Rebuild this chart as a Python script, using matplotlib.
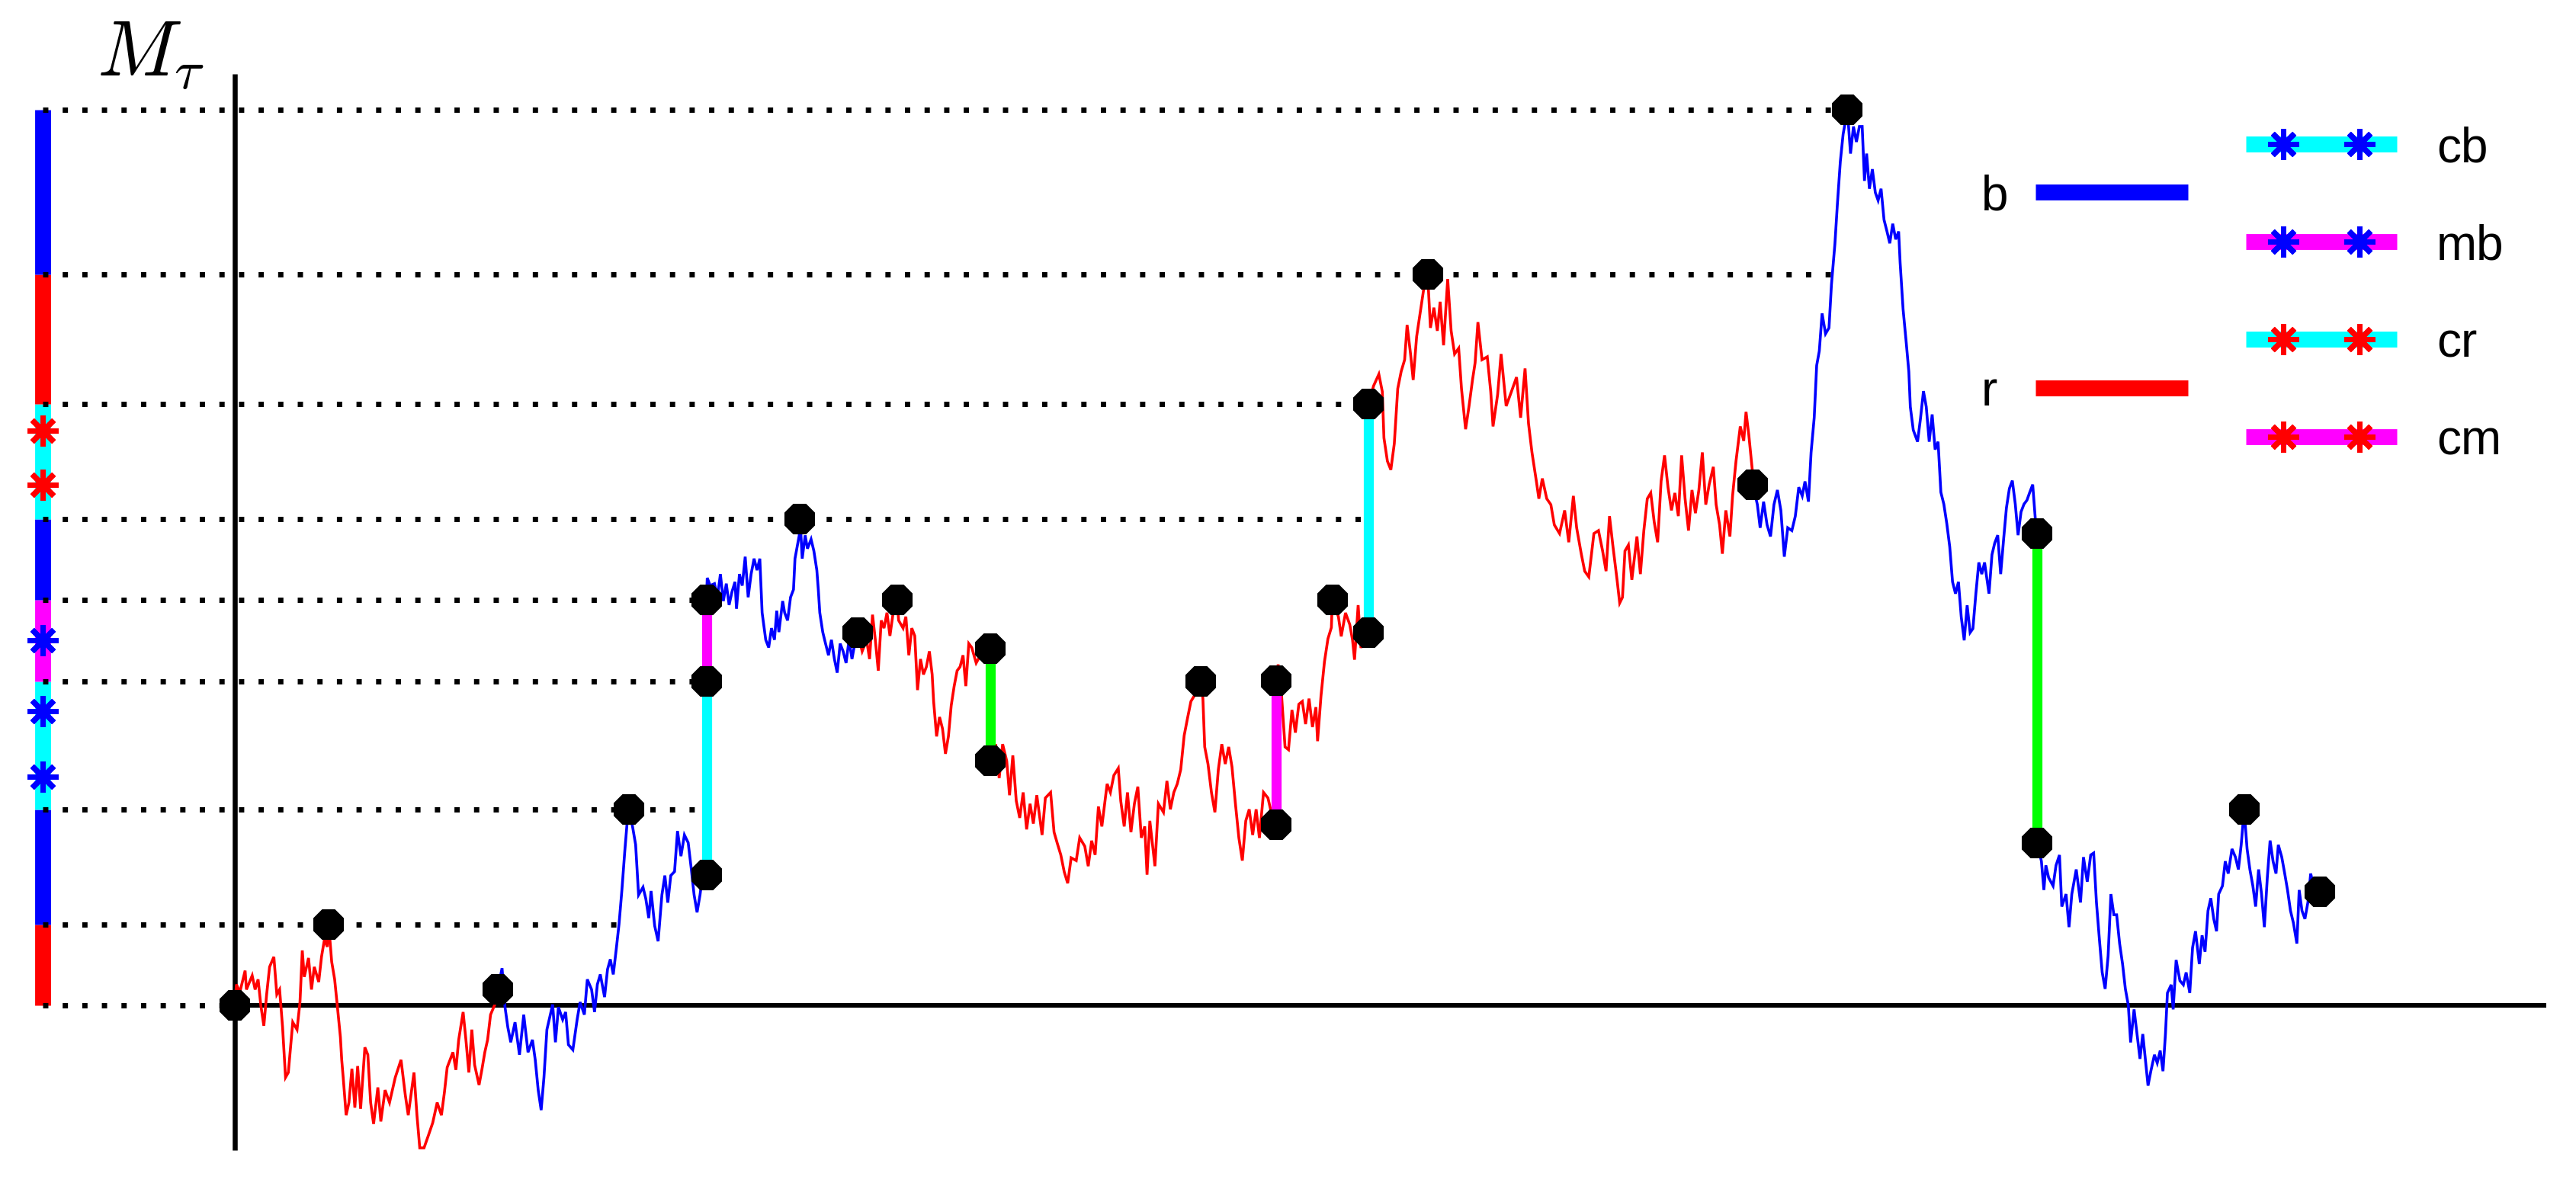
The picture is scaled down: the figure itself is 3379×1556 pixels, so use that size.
import matplotlib
matplotlib.use('Agg')
import matplotlib.pyplot as plt

plt.rcParams['mathtext.fontset'] = 'cm'
plt.rcParams['font.family'] = ['Liberation Sans', 'DejaVu Sans']

COLORS = {'r': (1, 0, 0), 'b': (0, 0, 1), 'c': (0, 1, 1), 'm': (1, 0, 1), 'g': (0, 1, 0)}

# ---------------- path data (time t, level M) ----------------
path_a = [(0, 0), (0.9, 12.7), (3, 8), (6.2, 21.1), (7.0, 9.6), (10.5, 18.1), (12.3, 9.6), (14.1, 15.8),
          (15.8, -0.3), (17.6, -12.5), (19.3, 6.6), (21.1, 23.4), (23.7, 29.5), (25.5, 6.6), (27.2, 9.6),
          (29.0, -13.3), (30.8, -43.9), (32.5, -40.9), (35.2, -10.3), (37.8, -14.8), (39.6, 2.0), (41.0, 33.4),
          (42.2, 17.3), (44.8, 28.8), (46.6, 9.6), (48.3, 23.4), (51.0, 14.2), (52.7, 29.5), (54.5, 40.2),
          (56.2, 35.6), (57.1, 49.0), (58.9, 26.5), (60.7, 15.8), (62.4, -1.1), (64.2, -19.4), (65.0, -33.2),
          (65.9, -43.9), (67.7, -66.9), (69.4, -59.2), (71.2, -38.6), (73.0, -62.3), (74.7, -37.0), (76.5, -63.0),
          (79.1, -25.6), (80.9, -30.1), (82.6, -59.2), (84.4, -72.2), (87.0, -50.0), (88.8, -70.7), (91.4, -51.6),
          (94.1, -59.2), (97.6, -43.9), (101.1, -33.2), (103.7, -54.6), (105.5, -66.9), (109.0, -40.9),
          (110.8, -66.9), (112.5, -86.8), (115.1, -86.8), (117.8, -79.1), (120.4, -71.5), (123.1, -59.2),
          (125.7, -66.9), (127.5, -53.1), (129.2, -37.8), (132.7, -28.6), (134.5, -39.3), (136.2, -21.0),
          (138.9, -4.1), (140.6, -21.0), (142.4, -40.9), (144.2, -14.8), (145.9, -36.3), (148.6, -48.5),
          (150.3, -39.3), (152.1, -28.6), (153.8, -21.0), (155.6, -5.7), (158.2, 0.5), (160.0, 9.6)]

path_b = [(160, 9.6), (162.6, 22.6), (164.4, -1.1), (166.1, -13.3), (167.9, -22.5), (170.5, -10.3), (173.2, -30.1),
          (175.8, -5.7), (178.4, -28.6), (181.1, -21.0), (182.8, -33.2), (184.6, -51.6), (186.4, -63.8),
          (188.1, -43.9), (189.9, -14.8), (193.4, 0.5), (195.1, -22.5), (196.9, -1.1), (199.5, -8.7), (201.3, -4.1),
          (203.0, -24.0), (205.7, -27.1), (208.3, -8.7), (210.1, 2.0), (212.7, -5.7), (214.5, 15.8), (217.1, 9.6),
          (218.9, -4.1), (220.6, 12.7), (222.4, 18.8), (225.0, 5.0), (226.8, 21.9), (228.5, 28.0), (230.3, 18.8),
          (232.1, 34.1), (233.8, 49.4), (235.6, 70.8), (237.3, 93.8), (238.6, 109.6), (240.0, 119), (242.1, 108.4),
          (243.9, 97.8), (245.7, 67.2), (248.4, 71.9), (250.1, 64.9), (251.9, 53.1), (253.3, 69.6), (255.5, 48.4),
          (257.6, 39.0), (259.9, 67.2), (261.7, 79.0), (263.5, 62.5), (265.3, 79.0), (267.6, 81.4), (269.4, 106.1),
          (271.5, 90.8), (273.6, 103.7), (275.9, 99.0), (277.7, 83.7), (279.5, 67.2), (281.3, 56.6), (283.1, 67.2),
          (284.3, 76.6), (287, 79.5)]

path_c = [(287, 247), (287.5, 260.2), (289.3, 255.5), (291.9, 256.7), (293.7, 248.4), (295.5, 262.5), (297.3, 246.1),
          (299.1, 256.7), (300.8, 243.7), (302.6, 251.9), (304.4, 257.8), (305.3, 241.4), (307.1, 262.5),
          (308.8, 255.5), (310.6, 273.1), (312.4, 248.4), (314.2, 262.5), (316.0, 271.9), (317.8, 264.9),
          (319.5, 271.9), (320.9, 239.0), (323.1, 222.5), (324.9, 217.8), (326.6, 229.6), (328.4, 222.5),
          (329.8, 240.2), (331.1, 227.2), (333.4, 246.1), (334.6, 239.0), (336.4, 234.3), (338.2, 248.4),
          (340.0, 253.1), (340.9, 271.9), (343.5, 286.1), (344, 296), (345.3, 271.9), (347.1, 286.1), (348.5, 278),
          (350.7, 283.7), (352.4, 276.6), (354.2, 264.9), (355.1, 253.1), (356.0, 239.0), (357.8, 227.2),
          (359.5, 220.2), (361.3, 213.1), (363.1, 222.5), (364.9, 210.8), (366.6, 202.5), (368.4, 220.2),
          (370.2, 215.5), (372.0, 208.4), (373.8, 222.5), (375.6, 210.8), (377.3, 220.2), (379, 227)]

path_d = [(379, 227), (381.8, 215.5), (384.5, 222.5), (386.3, 210.8), (388.1, 237.8), (389.8, 222.5), (391.6, 203.7),
          (393.4, 234.3), (395.1, 229.6), (396.9, 239.0), (398.7, 224.9), (400.5, 237.8), (403, 247), (404.0, 234.3),
          (406.7, 229.6), (408.4, 236.6), (410.2, 213.1), (412.0, 229.6), (413.8, 224.9), (415.5, 191.9),
          (417.3, 210.8), (419.1, 201.4), (420.9, 206.1), (422.7, 215.5), (424.4, 201.4), (425.3, 184.9),
          (427.1, 163.7), (428.9, 175.5), (430.7, 168.4), (432.5, 153.1), (434.3, 163.7), (436.0, 182.5),
          (437.8, 194.3), (439.6, 203.7), (441.4, 206.1), (443.2, 213.1), (444.9, 194.3), (446.7, 220.2),
          (448.5, 217.8), (451.2, 208.4), (453.8, 213.1), (456.5, 210.8), (460, 217)]

path_e = [(460, 149), (463.1, 159.0), (465.2, 138.3), (467.3, 159.0), (469.8, 148.7), (471.5, 127.9), (473.5, 152.1),
          (475.6, 124.4), (477.7, 114.1), (479.8, 129.6), (481.9, 107.1), (484.0, 122.7), (486.0, 110.6),
          (488.1, 127.9), (491.3, 103.7), (493.3, 126.2), (496.5, 129.6), (498.6, 105.4), (500.6, 98.5),
          (502.7, 91.6), (504.8, 81.2), (506.9, 74.3), (509.0, 89.8), (512.1, 88.1), (514.2, 102.0), (517.3, 96.8),
          (519.4, 84.7), (521.5, 100.2), (523.6, 91.6), (525.6, 121.0), (527.7, 108.9), (530.9, 134.8),
          (532.9, 129.6), (535.0, 140.0), (537.7, 144.3), (539.2, 124.4), (541.3, 108.9), (543.3, 129.6),
          (545.4, 105.4), (547.5, 122.7), (549.6, 133.1), (551.7, 102.0), (553.8, 108.9), (555.2, 79.5),
          (556.9, 112.3), (560.0, 84.7), (562.1, 122.7), (565.2, 117.5), (567.3, 136.6), (569.4, 119.3),
          (571.5, 129.6), (573.6, 134.8), (575.7, 143.5), (577.8, 164.2), (579.8, 174.6), (581.9, 185.0),
          (584.0, 188.5), (588, 197), (589.2, 186.7), (590.3, 157.3), (592.3, 146.9), (594.4, 129.6),
          (596.5, 117.5), (598.6, 143.5), (600.7, 159.0), (602.8, 146.9), (604.9, 157.3), (606.9, 145.2),
          (609.0, 122.7), (611.1, 101.9), (613.2, 88.1), (615.3, 112.3), (617.4, 119.3), (619.5, 103.7),
          (621.6, 119.3), (623.6, 101.9), (626.1, 129.6), (628.8, 126.2), (632.0, 112.3), (634, 110)]

path_f = [(634, 197.5), (635.0, 207.5), (637.1, 188.5), (639.2, 157.3), (641.3, 155.6), (643.4, 179.8), (645.5, 166.0),
          (647.6, 183.3), (649.7, 185.0), (651.7, 171.2), (653.8, 186.7), (655.9, 169.4), (658.0, 181.5),
          (659.0, 160.8), (661.1, 188.5), (663.2, 209.2), (665.3, 223.1), (667.4, 230.0), (668, 247),
          (671.7, 236.5), (673.4, 224.6), (676.0, 238.9), (678.6, 231.8), (680.3, 222.3), (681.5, 210.4),
          (683.7, 243.6), (685.4, 217.5), (687.1, 229.4), (690, 227)]

path_g = [(690, 366), (693.1, 377.1), (696.3, 384.2), (698.4, 373.6), (699.4, 345.4), (701.5, 331.3), (703.6, 326.0),
          (705.7, 341.9), (707.8, 375.4), (709.9, 385.9), (712.0, 393.0), (713.5, 414.2), (715.6, 396.5),
          (717.2, 380.7), (719.3, 407.1), (721.4, 421.2), (723.5, 435.3), (726, 445), (727.7, 412.4), (729.8, 424.7),
          (731.9, 410.6), (733.6, 428.3), (735.7, 401.8), (738.2, 442.1), (740.3, 410.6), (742.4, 396.5),
          (744.9, 400.0), (746.6, 375.4), (749.1, 350.7), (751.2, 364.8), (753.3, 380.7), (754.9, 391.2),
          (756.6, 415.9), (759.1, 393.0), (762.3, 394.8), (764.4, 373.6), (765.8, 352.4), (768.6, 371.8),
          (770.7, 396.5), (773.8, 364.8), (777.0, 373.6), (780.1, 382.4), (782.6, 357.7), (785.3, 387.7),
          (787.4, 354.2), (789.5, 336.6), (792.2, 318.9), (793.7, 308.4), (795.8, 320.7), (798.5, 308.4),
          (801.0, 304.8), (803.1, 292.5), (806.3, 287.2), (809.4, 301.3), (811.9, 281.9), (814.7, 310.1),
          (816.7, 290.7), (819.5, 274.9), (821.6, 264.3), (824.1, 260.8), (827.2, 287.2), (830.0, 289.0),
          (832.5, 276.6), (834.6, 264.3), (836.7, 297.8), (838.7, 280.2), (841.3, 259.0), (842.9, 244.9),
          (844.6, 248.4), (846.1, 276.6), (848.2, 280.2), (850.3, 259.0), (853.4, 285.4), (855.5, 262.5),
          (857.6, 289.0), (859.7, 308.4), (861.8, 311.9), (863.9, 294.3), (866.0, 281.9), (868.1, 319.0),
          (870.2, 334.8), (872.3, 315.4), (874.4, 301.3), (876.5, 311.9), (878.6, 297.8), (880.6, 334.8),
          (882.7, 308.4), (884.8, 289.0), (886.9, 313.7), (889.0, 299.6), (891.1, 313.7), (893.2, 336.6),
          (895.3, 304.8), (897.4, 317.2), (899.9, 327.8), (901.6, 304.8), (903.7, 292.5), (905.4, 274.9),
          (907.5, 301.3), (910.0, 285.4), (911.6, 310.1), (913.7, 331.3), (916.3, 352.4), (918.4, 343.6),
          (919.8, 361.3), (921.5, 347.2), (923.6, 326.0), (924, 317)]

path_h = [(924, 317), (926.7, 304.8), (928.4, 290.7), (930.5, 306.6), (932.6, 292.5), (934.7, 285.4), (936.8, 304.8),
          (938.9, 313.7), (941.0, 301.3), (943.1, 273.1), (945.2, 290.7), (947.7, 289.0), (949.8, 297.8),
          (951.9, 315.4), (954.0, 310.1), (955.7, 318.9), (957.8, 306.6), (959.4, 336.6), (961.3, 357.7),
          (962.8, 389.5), (964.4, 398.3), (966.1, 421.2), (968.2, 408.8), (970.3, 412.4), (971.8, 438.8),
          (973.9, 463.5), (975.4, 487.6), (977.2, 513.7), (978.9, 530.3), (981.5, 545), (983.4, 518.5),
          (985.2, 535.0), (987.0, 525.6), (988.8, 535.0), (990.5, 535.0), (991.9, 501.9), (993.2, 518.5),
          (994.9, 497.1), (996.7, 509.0), (998.5, 494.8), (1000.2, 490.0), (1002.0, 497.1), (1003.8, 478.2),
          (1005.6, 471.1), (1007.3, 463.9), (1009.1, 475.8), (1010.9, 466.3), (1012.7, 471.1), (1013.6, 452.1),
          (1015.4, 423.7), (1017.2, 404.7), (1018.9, 385.7), (1019.8, 364.4), (1021.6, 350.2), (1024.2, 343.1),
          (1026.0, 357.3), (1027.8, 373.9), (1029.5, 364.4), (1031.3, 343.1), (1033.1, 359.7), (1034.9, 338.3),
          (1036.7, 343.1), (1038.4, 312.3), (1040.2, 305.1), (1042.0, 293.3), (1043.8, 279.1), (1045.5, 257.8),
          (1047.3, 250.6), (1049.1, 257.8), (1050.8, 236.4), (1052.6, 222.2), (1054.4, 243.5), (1056.2, 226.9),
          (1057.9, 229.3), (1059.7, 250.6), (1061.5, 269.6), (1063.3, 262.5), (1065.0, 269.6), (1067.7, 250.6),
          (1069.5, 274.3), (1071.2, 281.5), (1073.0, 286.2), (1074.8, 262.5), (1076.6, 283.8), (1078.3, 302.8),
          (1080.1, 314.6), (1081.9, 319.4), (1083.7, 305.1), (1085.4, 286.2), (1087.2, 300.4), (1089.0, 305.1),
          (1090.8, 307.5), (1092.5, 312.3), (1094.3, 317.0), (1096.1, 293.3), (1097, 287)]

path_i = [(1097, 99), (1099.6, 87.7), (1101.1, 70.2), (1102.3, 85.2), (1104.0, 77.7), (1106.7, 72.7), (1108.5, 85.2),
          (1110.6, 91.5), (1112.0, 60.1), (1114.6, 67.7), (1116.4, 47.6), (1118.1, 67.7), (1120.8, 82.7),
          (1123.4, 62.6), (1125.2, 90.2), (1127.5, 75.2), (1129.6, 91.5), (1131.4, 92.7), (1133.1, 62.6),
          (1134.9, 40.1), (1136.6, 20.0), (1138.4, 10.0), (1140.2, 30.1), (1141.9, 67.7), (1143.7, 55.1),
          (1145.4, 55.1), (1147.2, 37.6), (1149.0, 25.1), (1150.7, 10.0), (1152.5, 0.0), (1153.9, -22.6),
          (1156.0, -2.5), (1157.8, -17.5), (1159.6, -32.6), (1161.3, -17.5), (1163.1, -35.1), (1164.5, -48.9),
          (1166.2, -40.1), (1168.4, -30.1), (1170.1, -35.1), (1171.9, -27.6), (1173.6, -40.1), (1175.1, -17.5),
          (1176.3, 7.5), (1178.6, 12.5), (1179.8, -2.5), (1181.6, 27.6), (1183.9, 15.0), (1186.0, 12.5),
          (1187.7, 20.0), (1189.9, 7.5), (1191.6, 35.1), (1193.4, 45.1), (1195.7, 25.1), (1197.4, 42.6),
          (1199.2, 32.6), (1201.0, 57.6), (1202.7, 65.2), (1204.5, 52.6), (1206.2, 45.1), (1207.5, 67.7),
          (1209.8, 72.7), (1211.5, 87.7), (1213.3, 80.2), (1215.6, 95.2), (1217.7, 90.2), (1219.5, 82.7),
          (1221.2, 97.7), (1223.0, 119), (1224.8, 95.2), (1226.5, 82.7), (1228.3, 72.7), (1230.0, 60.1),
          (1231.8, 82.7), (1233.6, 67.7), (1235.3, 47.6), (1237.1, 77.7), (1238.8, 100.3), (1240.6, 87.7),
          (1242.4, 80.2), (1243.8, 97.7), (1245.9, 90.2), (1247.7, 80.2), (1249.4, 70.2), (1251.2, 57.6),
          (1253.0, 50.1), (1255.1, 37.6), (1256.5, 70.2), (1258.2, 57.6), (1260.0, 52.6), (1261.8, 62.6),
          (1263.5, 80.2), (1265.3, 72.7), (1267.1, 62.6), (1269.2, 69)]

path_pieces = [path_a, path_b, path_c, path_d, path_e, path_f, path_g, path_h, path_i]
path_colors = ['r', 'b', 'b', 'r', 'r', 'r', 'r', 'b', 'b']

# jumps: time, from level, to level, colour
jump_t = [287, 287, 460, 634, 690, 1097]
jump_from = [79.5, 197, 217, 110, 227, 287]
jump_to = [197, 247, 149, 197.5, 366, 99]
jump_colors = ['c', 'm', 'g', 'm', 'c', 'g']

# marked points
marker_t = [0, 57, 160, 240, 287, 287, 287, 344, 379, 403, 460, 460, 588, 634, 634, 668,
            690, 690, 726, 924, 981.5, 1097, 1097, 1223, 1269.2]
marker_m = [0, 49, 9.6, 119, 79.5, 197, 247, 296, 227, 247, 217, 149, 197, 197.5, 110, 247,
            227, 366, 445, 317, 545, 287, 99, 119, 69]

# record levels with the time where the dotted guide ends
record_levels = [0, 49, 119, 197, 247, 296, 366, 445, 545]
record_ends = [0, 233.5, 287, 287, 287, 690, 690, 972, 981.5]
bar_colors = ['r', 'b', 'c', 'm', 'b', 'c', 'r', 'b']
bar_star_m = [139, 179, 222, 317, 350]
bar_star_colors = ['b', 'b', 'b', 'r', 'r']

legend_plain = ['b', 'r']
legend_starred = [('c', 'b', 'cb'), ('m', 'b', 'mb'), ('c', 'r', 'cr'), ('m', 'r', 'cm')]

# ---------------- figure ----------------
fig = plt.figure(figsize=(33.79, 15.56), dpi=100)
ax = fig.add_axes([0, 0, 1, 1])
ax.set_xlim(-143, 1425)
ax.set_ylim(-110, 612)
ax.axis('off')

BAR_T = -117
STAR = (8, 2, 0)

# left colour bar
for lo, hi, c in zip(record_levels[:-1], record_levels[1:], bar_colors):
    ax.plot([BAR_T, BAR_T], [lo, hi], color=COLORS[c], lw=15, solid_capstyle='butt', zorder=1)

# dotted guides
for lev, end in zip(record_levels, record_ends):
    ax.plot([BAR_T, end], [lev, lev], color='black', lw=5, linestyle=(0, (1, 2.7)),
            dash_capstyle='butt', zorder=2)

for m, c in zip(bar_star_m, bar_star_colors):
    ax.plot([BAR_T], [m], marker=STAR, ms=29, mew=5, color=COLORS[c], zorder=3)

# axes lines
ax.plot([0, 0], [-88, 567], color='black', lw=4.7, solid_capstyle='butt', zorder=2)
ax.plot([0, 1407], [0, 0], color='black', lw=4.3, solid_capstyle='butt', zorder=2)

# path
for piece, c in zip(path_pieces, path_colors):
    ts = [p[0] for p in piece]
    ms = [p[1] for p in piece]
    ax.plot(ts, ms, color=COLORS[c], lw=2.6, zorder=3, solid_joinstyle='miter')

# jumps
for t, a, b, c in zip(jump_t, jump_from, jump_to, jump_colors):
    ax.plot([t, t], [a, b], color=COLORS[c], lw=9.5, solid_capstyle='butt', zorder=4)

# markers
ax.plot(marker_t, marker_m, linestyle='none', marker='8', ms=30, mfc='black', mec='black',
        mew=1.5, zorder=5)

# label
ax.text(-84, 565.5, r'$M_\tau$', fontsize=75, ha='left', va='baseline')

# legend
plain_y = [495, 376]
for lab, y in zip(legend_plain, plain_y):
    ax.text(1063, y - 11, lab, fontsize=46, ha='left', va='baseline')
    ax.plot([1096, 1189], [y, y], color=COLORS[lab], lw=15, solid_capstyle='butt')

starred_y = [524.5, 465, 405.5, 346]
for (lc, sc, lab), y in zip(legend_starred, starred_y):
    ax.plot([1224, 1316], [y, y], color=COLORS[lc], lw=15, solid_capstyle='butt')
    ax.plot([1247, 1293], [y, y], linestyle='none', marker=STAR, ms=29, mew=5, color=COLORS[sc])
    ax.text(1340, y - 11, lab, fontsize=46, ha='left', va='baseline')

fig.savefig('out.png', dpi=100, facecolor='white')
